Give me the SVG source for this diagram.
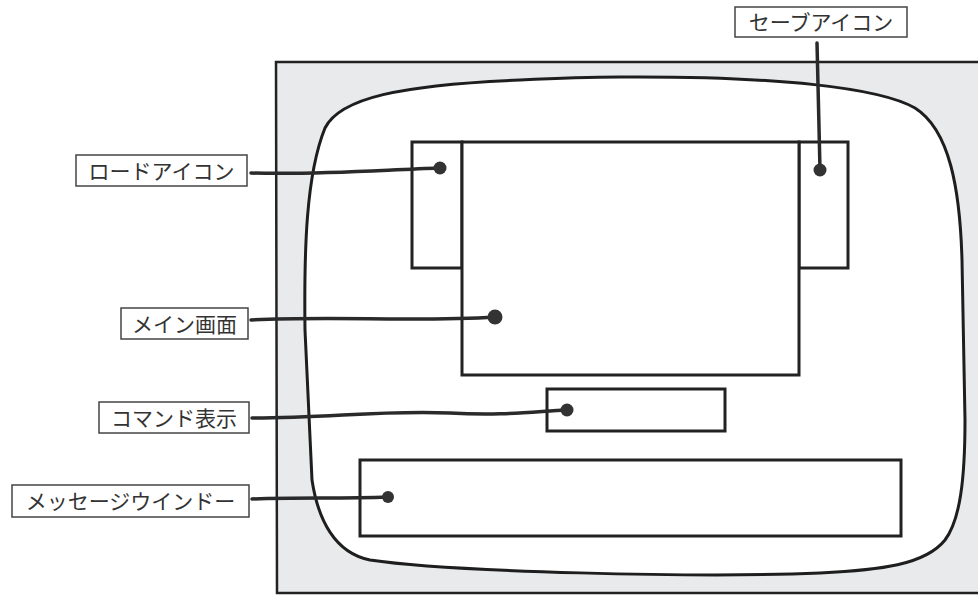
<svg xmlns="http://www.w3.org/2000/svg" width="978" height="596" viewBox="0 0 978 596">
<style>
.frame{fill:#e8eaec;stroke:#222;stroke-width:2.5}
.screen{fill:#fff;stroke:#1e1e1e;stroke-width:3}
.part{fill:#fff;stroke:#222;stroke-width:3}
.lbl{fill:#fff;stroke:#444;stroke-width:1.5}
.txt{font-family:"Noto Sans CJK JP","Noto Sans",sans-serif;font-size:21px;fill:#333;text-anchor:middle}
.con{fill:none;stroke:#2a2a2a;stroke-width:3.5;stroke-linecap:round}
.dot{fill:#333}
</style>
<rect width="978" height="596" fill="#fff"/>
<g id="device">
<path class="frame" d="M978 62 L276 62 L277 593 L978 593"/>
<path class="screen" d="M620 77 C780 76 880 88 915 108 C950 130 960 190 962 260 L965 420 C965 480 960 520 945 540 C925 565 880 570 820 573 C700 578 450 572 370 560 C335 553 318 520 312 480 L305 330 C304 250 306 175 325 128 C340 98 400 85 520 80 C560 78 590 77 620 77 Z"/>
</g>
<g id="load-icon"><rect class="part" x="412" y="142" width="50" height="126"/></g>
<g id="save-icon"><rect class="part" x="799" y="142" width="49" height="126"/></g>
<g id="main-screen"><rect class="part" x="462" y="142" width="337" height="233"/></g>
<g id="command"><rect class="part" x="547" y="389" width="178" height="42"/></g>
<g id="message"><rect class="part" x="360" y="460" width="541" height="76"/></g>
<g id="label-save"><rect class="lbl" x="735" y="7" width="172" height="30"/><text class="txt" x="821" y="29.5">セーブアイコン</text></g>
<g id="label-load"><rect class="lbl" x="76" y="155" width="171" height="31"/><text class="txt" x="161.5" y="178.5">ロードアイコン</text></g>
<g id="label-main"><rect class="lbl" x="121" y="308" width="127" height="31"/><text class="txt" x="184.5" y="331.5">メイン画面</text></g>
<g id="label-command"><rect class="lbl" x="99" y="402" width="150" height="31"/><text class="txt" x="174" y="425.5">コマンド表示</text></g>
<g id="label-message"><rect class="lbl" x="12" y="485" width="237" height="32"/><text class="txt" x="130.5" y="508.5">メッセージウインドー</text></g>
<g id="connectors">
<path class="con" d="M251 173 C320 175 380 170 440 168"/>
<circle class="dot" cx="440" cy="168" r="6.5"/>
<path class="con" d="M817 43 C818 80 819 130 820 170"/>
<circle class="dot" cx="820" cy="170" r="6.5"/>
<path class="con" d="M251 320 C330 316 420 322 495 317"/>
<circle class="dot" cx="495" cy="317" r="7.5"/>
<path class="con" d="M252 418 C330 418 380 410 450 413 C500 416 530 412 567 410"/>
<circle class="dot" cx="567" cy="410" r="6.5"/>
<path class="con" d="M252 499 C300 497 340 499 388 497"/>
<circle class="dot" cx="388" cy="497" r="6"/>
</g>
</svg>
